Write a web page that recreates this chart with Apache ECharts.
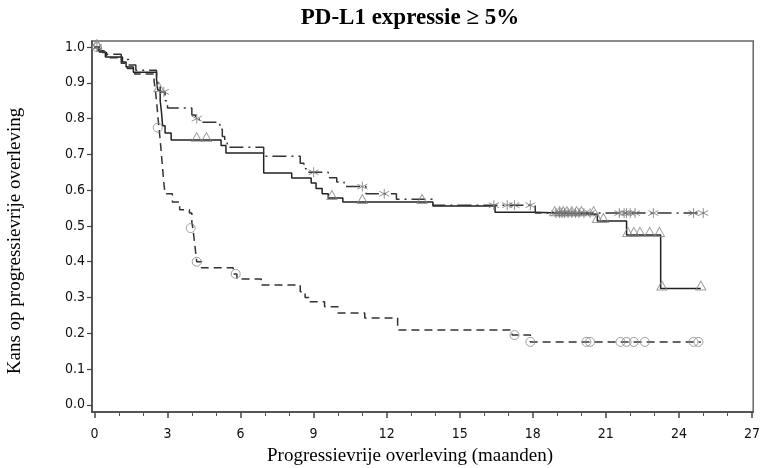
<!DOCTYPE html>
<html>
<head>
<meta charset="utf-8">
<script src="https://cdn.jsdelivr.net/npm/echarts@6.0.0/dist/echarts.min.js"></script>
<style>
  html, body { margin: 0; padding: 0; background: #fff; }
  #main { width: 763px; height: 468px; }
</style>
</head>
<body>
<div id="main"></div>
<script>
// tijdstippen (maanden) en overlevingskansen per groep
const timesA = [0, 0.2, 0.45, 1.15, 1.3, 1.6, 2.55, 2.6, 2.7, 2.75, 2.8, 2.9, 3.15, 5.2, 5.4, 6.95, 8.1, 8.9, 9.1, 9.35, 9.6, 10.2, 13.9, 16.45, 18.1, 20.65, 21.85, 23.25, 24.9];
const survA = [1.0, 0.986, 0.972, 0.958, 0.944, 0.93, 0.91, 0.88, 0.85, 0.82, 0.78, 0.76, 0.74, 0.725, 0.704, 0.648, 0.634, 0.62, 0.605, 0.59, 0.578, 0.567, 0.556, 0.538, 0.533, 0.514, 0.475, 0.325, 0.325];
const censorA = [[0.1, 1.0], [2.65, 0.88], [4.2, 0.74], [4.6, 0.74], [9.75, 0.578], [11.0, 0.567], [13.45, 0.567],
  [18.9, 0.533], [19.1, 0.533], [19.25, 0.533], [19.4, 0.533], [19.6, 0.533], [19.8, 0.533], [20.0, 0.533], [20.5, 0.533],
  [20.65, 0.514], [20.9, 0.514], [21.9, 0.475], [22.15, 0.475], [22.4, 0.475], [22.8, 0.475], [23.2, 0.475], [23.3, 0.325], [24.9, 0.325]];

const timesB = [0, 0.15, 0.4, 1.1, 1.4, 1.7, 2.55, 2.6, 2.7, 2.9, 3.0, 4.0, 4.15, 4.3, 5.15, 5.25, 5.35, 5.45, 6.95, 8.45, 8.6, 8.7, 9.6, 9.95, 10.25, 11.15, 12.4, 13.9, 18.1, 25.0];
const survB = [1.0, 0.99, 0.98, 0.965, 0.95, 0.935, 0.92, 0.9, 0.875, 0.85, 0.83, 0.81, 0.8, 0.79, 0.77, 0.75, 0.735, 0.72, 0.695, 0.675, 0.66, 0.65, 0.635, 0.623, 0.61, 0.59, 0.575, 0.558, 0.536, 0.536];
const censorB = [[0.1, 1.0], [2.85, 0.875], [4.2, 0.8], [9.0, 0.65], [11.0, 0.61], [11.9, 0.59],
  [16.4, 0.558], [16.95, 0.558], [17.25, 0.558], [17.9, 0.558],
  [18.95, 0.536], [19.1, 0.536], [19.2, 0.536], [19.3, 0.536], [19.45, 0.536], [19.6, 0.536], [19.75, 0.536], [19.9, 0.536], [20.1, 0.536], [20.35, 0.536],
  [21.55, 0.536], [21.75, 0.536], [21.85, 0.536], [22.0, 0.536], [22.2, 0.536], [22.95, 0.536], [24.6, 0.536], [25.0, 0.536]];

const timesC = [0, 0.2, 0.5, 1.1, 1.35, 1.65, 2.45, 2.5, 2.55, 2.6, 2.65, 2.7, 2.75, 2.8, 2.85, 2.9, 3.2, 3.5, 3.9, 4.0, 4.05, 4.1, 4.15, 4.2, 4.4, 5.7, 5.85, 6.85, 8.45, 8.65, 8.8, 9.45, 10.0, 11.1, 12.45, 17.15, 17.9, 24.9];
const survC = [1.0, 0.985, 0.97, 0.955, 0.94, 0.925, 0.905, 0.88, 0.85, 0.81, 0.775, 0.74, 0.7, 0.66, 0.62, 0.59, 0.567, 0.545, 0.536, 0.51, 0.49, 0.46, 0.43, 0.40, 0.383, 0.366, 0.352, 0.335, 0.316, 0.30, 0.288, 0.274, 0.257, 0.243, 0.209, 0.195, 0.176, 0.176];
const censorC = [[0.1, 1.0], [2.6, 0.775], [3.95, 0.494], [4.2, 0.40], [5.8, 0.366], [17.25, 0.195], [17.9, 0.176],
  [20.2, 0.176], [20.35, 0.176], [21.6, 0.176], [21.85, 0.176], [22.15, 0.176], [22.6, 0.176], [24.6, 0.176], [24.8, 0.176]];

const xTicks = [0, 3, 6, 9, 12, 15, 18, 21, 24, 27];
const xMinorTicks = [1, 2, 4, 5, 7, 8, 10, 11, 13, 14, 16, 17, 19, 20, 22, 23, 25, 26];
const yTicks = [0, 0.1, 0.2, 0.3, 0.4, 0.5, 0.6, 0.7, 0.8, 0.9, 1.0];

const titleText = 'PD-L1 expressie ≥ 5%';
const xTitle = 'Progressievrije overleving (maanden)';
const yTitle = 'Kans op progressievrije overleving';

function pairs(ts, ss) {
  return ts.map((t, i) => [t, ss[i]]);
}

const asterisk = 'path://M5,0L5,10M0.7,2.5L9.3,7.5M0.7,7.5L9.3,2.5';
const tickFont = '"DejaVu Sans Condensed", "Liberation Sans Narrow", sans-serif';
const serif = '"Liberation Serif", "DejaVu Serif", serif';

const chart = echarts.init(document.getElementById('main'), null, { renderer: 'canvas' });

const lineBase = {
  type: 'line',
  step: 'end',
  showSymbol: false,
  symbol: 'none',
  animation: false,
  silent: true
};

const censorBase = {
  type: 'scatter',
  animation: false,
  silent: true,
  z: 3
};

const option = {
  backgroundColor: '#fff',
  animation: false,
  grid: {
    left: 92, right: 6, top: 41, bottom: 56,
    show: true,
    borderColor: '#666',
    borderWidth: 1.5
  },
  xAxis: [{
    type: 'value',
    min: -0.1,
    max: 27.05,
    axisLine: { show: true, onZero: false, lineStyle: { color: '#444', width: 1.5 } },
    axisTick: { show: true, customValues: xTicks, length: 6, lineStyle: { color: '#444', width: 1.5 } },
    axisLabel: {
      customValues: xTicks,
      color: '#111',
      fontFamily: tickFont,
      fontSize: 14,
      margin: 15
    },
    splitLine: { show: false }
  }, {
    type: 'value',
    position: 'bottom',
    offset: 0,
    min: -0.1,
    max: 27.05,
    axisLine: { show: false, onZero: false },
    axisTick: { show: true, inside: false, customValues: xMinorTicks, length: 4, lineStyle: { color: '#555', width: 1 } },
    axisLabel: { show: false },
    splitLine: { show: false }
  }],
  yAxis: {
    type: 'value',
    min: -0.02,
    max: 1.017,
    axisLine: { show: true, onZero: false, lineStyle: { color: '#444', width: 1.5 } },
    axisTick: { show: true, customValues: yTicks, length: 5, lineStyle: { color: '#444', width: 1.2 } },
    axisLabel: {
      customValues: yTicks,
      formatter: v => v.toFixed(1),
      color: '#111',
      fontFamily: tickFont,
      fontSize: 14,
      margin: 7
    },
    splitLine: { show: false }
  },
  graphic: [{
    type: 'text',
    x: 410, y: 18,
    style: { text: titleText, font: 'bold 23px ' + serif, fill: '#000', align: 'center', verticalAlign: 'middle' }
  }, {
    type: 'text',
    x: 410, y: 456,
    style: { text: xTitle, font: '19px ' + serif, fill: '#000', align: 'center', verticalAlign: 'middle' }
  }, {
    type: 'text',
    x: 15, y: 241,
    rotation: Math.PI / 2,
    style: { text: yTitle, font: '19px ' + serif, fill: '#000', align: 'center', verticalAlign: 'middle' }
  }],
  series: [
    Object.assign({}, lineBase, {
      name: 'A',
      data: pairs(timesA, survA),
      lineStyle: { color: '#222', width: 1.5, type: 'solid' }
    }),
    Object.assign({}, lineBase, {
      name: 'B',
      data: pairs(timesB, survB),
      lineStyle: { color: '#333', width: 1.5, type: [14, 5, 2, 5] }
    }),
    Object.assign({}, lineBase, {
      name: 'C',
      data: pairs(timesC, survC),
      lineStyle: { color: '#333', width: 1.5, type: [8, 5] }
    }),
    Object.assign({}, censorBase, {
      name: 'A cens',
      data: censorA,
      symbol: 'triangle',
      symbolSize: [10, 9],
      symbolOffset: [0, -3],
      itemStyle: { color: 'rgba(255,255,255,0)', borderColor: '#888', borderWidth: 1 }
    }),
    Object.assign({}, censorBase, {
      name: 'B cens',
      data: censorB,
      symbol: asterisk,
      symbolSize: 10,
      itemStyle: { color: 'none', borderColor: '#777', borderWidth: 1 }
    }),
    Object.assign({}, censorBase, {
      name: 'C cens',
      data: censorC,
      symbol: 'circle',
      symbolSize: 9,
      itemStyle: { color: 'rgba(255,255,255,0)', borderColor: '#888', borderWidth: 1 }
    })
  ]
};

chart.setOption(option);
</script>
</body>
</html>
